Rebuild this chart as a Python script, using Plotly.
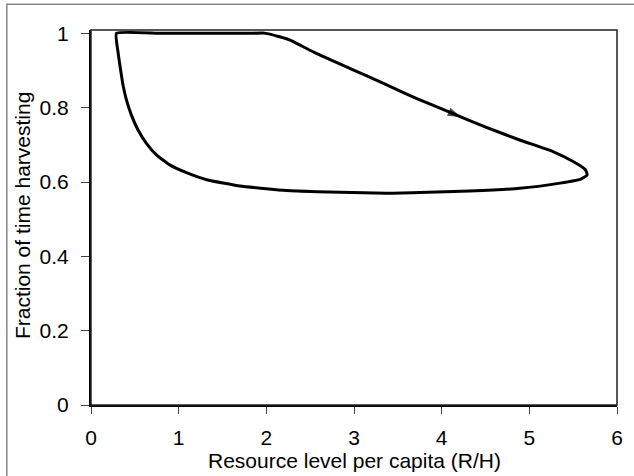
import plotly.graph_objects as go

# Trajectory (resource per capita vs fraction of time harvesting), traversed clockwise
loop_x = [0.29, 0.80, 1.40, 1.80, 1.96, 2.04, 2.27, 2.57, 2.95, 3.33, 3.71, 4.09, 4.21, 4.51,
          4.89, 5.27, 5.50, 5.64, 5.66, 5.58, 5.35, 4.89, 4.32, 3.75, 3.37, 2.58, 2.23,
          1.70, 1.32, 1.089, 0.898, 0.746, 0.632, 0.537, 0.461, 0.404, 0.365, 0.335, 0.308, 0.29]
loop_y = [1.0, 1.0, 1.0, 1.0, 1.001, 0.998, 0.982, 0.946, 0.906, 0.866, 0.825, 0.788, 0.776, 0.747,
          0.713, 0.682, 0.655, 0.633, 0.619, 0.607, 0.597, 0.583, 0.576, 0.572, 0.570, 0.574, 0.577,
          0.589, 0.606, 0.625, 0.646, 0.673, 0.704, 0.740, 0.780, 0.821, 0.861, 0.906, 0.950, 1.0]

# Direction arrow on the upper branch
arrow_x = [4.09, 4.22]
arrow_y = [0.788, 0.775]

x_ticks = [0, 1, 2, 3, 4, 5, 6]
y_ticks = [0, 0.2, 0.4, 0.6, 0.8, 1]
y_tick_labels = ["0", "0.2", "0.4", "0.6", "0.8", "1"]

x_title = "Resource level per capita (R/H)"
y_title = "Fraction of time harvesting"

fig = go.Figure()
fig.add_trace(go.Scatter(x=loop_x, y=loop_y, mode="lines",
                         line=dict(color="black", width=3, shape="spline", smoothing=0.4),
                         showlegend=False, hoverinfo="skip"))
fig.add_trace(go.Scatter(x=arrow_x, y=arrow_y, mode="markers",
                         marker=dict(symbol="arrow", size=[0, 14], color="black",
                                     angleref="previous", line=dict(width=0)),
                         showlegend=False, hoverinfo="skip"))

font = "Liberation Sans, Arial, sans-serif"
fig.update_layout(
    width=634, height=476,
    margin=dict(l=91, r=17, t=30, b=71),
    paper_bgcolor="white", plot_bgcolor="white",
    font=dict(family=font, color="black"),
    xaxis=dict(range=[0, 6], tickvals=x_ticks, ticks="outside", ticklen=7, tickwidth=1,
               tickcolor="#444", showline=True, linecolor="black", linewidth=2,
               showgrid=False, zeroline=False, tickfont=dict(size=21),
               ticklabelstandoff=6),
    yaxis=dict(range=[0, 1.009], tickvals=y_ticks, ticktext=y_tick_labels, ticks="outside",
               ticklen=8, tickwidth=1, tickcolor="#444", showline=True, linecolor="black",
               linewidth=2, showgrid=False, zeroline=False, tickfont=dict(size=21),
               ticklabelstandoff=8),
    annotations=[
        dict(text=x_title, xref="paper", yref="paper", x=0.5, y=-0.147,
             xanchor="center", yanchor="middle", showarrow=False, font=dict(size=21)),
        dict(text=y_title, xref="paper", yref="paper", x=-0.131, y=0.504, textangle=-90,
             xanchor="center", yanchor="middle", showarrow=False, font=dict(size=21)),
    ],
    shapes=[
        dict(type="rect", xref="paper", yref="paper", x0=0, x1=1, y0=0, y1=1,
             line=dict(color="#222", width=1.5), layer="above"),
        dict(type="rect", xref="paper", yref="paper", x0=-0.160, x1=1.1, y0=-0.3, y1=1.069,
             line=dict(color="#888", width=1.5), layer="below"),
    ],
)

fig.write_html("out.html")
